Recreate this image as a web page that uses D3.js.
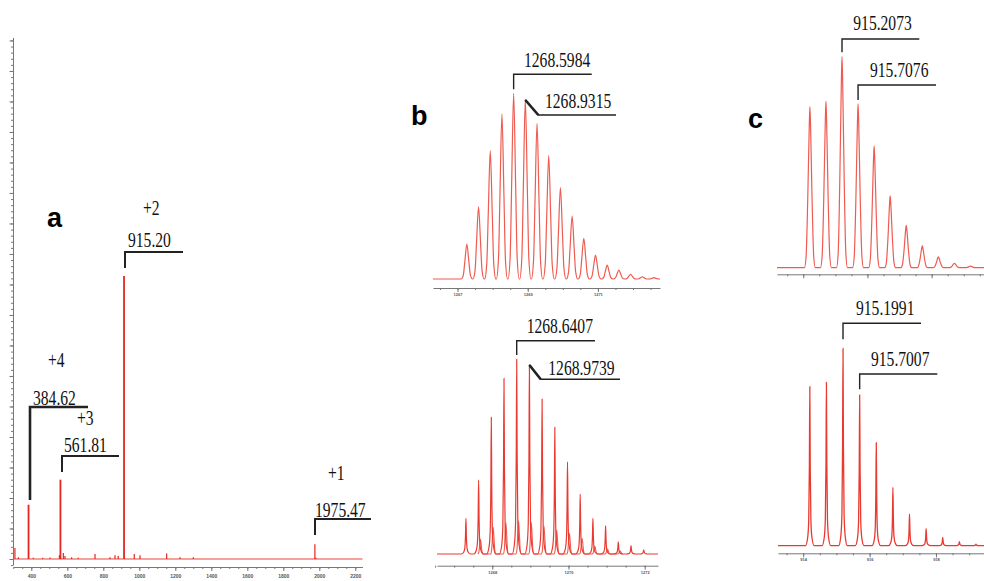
<!DOCTYPE html>
<html>
<head>
<meta charset="utf-8">
<script src="https://cdn.jsdelivr.net/npm/d3@7"></script>
<style>
body { margin: 0; background: #fff; }
svg { display: block; }
.mz { font-family: "Liberation Serif", "Times New Roman", serif; font-size: 20px; fill: #111; }
.panel { font-family: "Liberation Sans", Arial, sans-serif; font-weight: bold; font-size: 27px; fill: #000; }
.axis path, .axis line { stroke: #777; stroke-width: 1; }
.axis text { font-family: "Liberation Sans", Arial, sans-serif; font-size: 4px; font-weight: bold; fill: #555; }
.bracket { fill: none; stroke: #222; }
</style>
</head>
<body>
<script>
// a: full scan
var surveyMz  = [309, 328, 384.62, 411, 463, 504, 556, 561.81, 578, 587, 624, 661, 754, 837, 865, 883, 915.20, 972, 1004, 1152, 1226, 1300, 1975.47, 1981];
var surveyInt = [1.8, 0.3, 8.9, 0.2, 0.2, 0.25, 0.6, 13.0, 1.0, 0.5, 0.3, 0.2, 0.8, 0.3, 0.6, 0.5, 46.4, 0.8, 0.6, 0.9, 0.3, 0.3, 2.4, 0.2];
var surveyTickLabels = [400, 600, 800, 1000, 1200, 1400, 1600, 1800, 2000, 2200];

// b: 3+ isotope envelope, top and bottom spectra
var bTopMz  = [1267.265, 1267.598, 1267.932, 1268.265, 1268.5984, 1268.9315, 1269.265, 1269.598, 1269.932, 1270.265, 1270.598, 1270.932, 1271.265, 1271.598, 1271.932, 1272.265, 1272.598];
var bTopInt = [18.8, 38.9, 69.1, 88.9, 100, 96.8, 83.8, 66.4, 49.2, 33.9, 21.9, 12.9, 7.5, 4.8, 2.5, 1.2, 0.7];
var bTopTickLabels = [1267, 1269, 1271];

var bBotMz  = [1267.308, 1267.641, 1267.974, 1268.307, 1268.6407, 1268.9739, 1269.307, 1269.641, 1269.974, 1270.307, 1270.641, 1270.974, 1271.307, 1271.641, 1271.974];
var bBotInt = [18.3, 38.0, 70.2, 90.2, 100, 97.1, 79.6, 65.1, 47.3, 30.7, 18.3, 14.4, 6.3, 4.3, 2.1];
var bBotShoulderMz  = [1267.69, 1268.024, 1268.357, 1268.69, 1269.024, 1269.357, 1269.69, 1270.024, 1270.357, 1270.69, 1271.024, 1271.357];
var bBotShoulderInt = [7.5, 13.7, 16.1, 17.1, 16.1, 14.4, 12.3, 10.6, 8.1, 4.1, 2.6, 1.5];
var bBotTickLabels = [1268, 1270, 1272];

// c: 2+ isotope envelope
var cTopMz  = [914.2073, 914.7073, 915.2073, 915.7076, 916.208, 916.708, 917.209, 917.709, 918.21, 918.71, 919.21];
var cTopInt = [76.3, 79.0, 100, 77.6, 57.7, 34.0, 20.1, 10.3, 5.2, 2.1, 0.8];
var cBotMz  = [914.1991, 914.6991, 915.1991, 915.7007, 916.201, 916.702, 917.202, 917.703, 918.203, 918.704, 919.204];
var cBotInt = [80.6, 82.8, 100, 76.4, 52.2, 29.6, 16.0, 8.6, 4.2, 2.0, 0.8];
var cTickLabels = [914, 916, 918];

var svg = d3.select('body')
  .append('svg')
    .attr('width', 984)
    .attr('height', 581);

// peak shapes (offset in widths, fraction of height)
var roundShape = [[-1, 0], [-0.62, 0.12], [-0.36, 0.5], [0, 1], [0.36, 0.5], [0.62, 0.12], [1, 0]];
var pointShape = [[-1, 0], [-0.7, 0.07], [-0.4, 0.42], [-0.12, 0.88], [0, 1], [0.12, 0.88], [0.4, 0.42], [0.7, 0.07], [1, 0]];
var spikeShape = [[-1, 0], [-0.5, 0.05], [-0.25, 0.16], [-0.1, 0.5], [0, 1], [0.1, 0.5], [0.25, 0.16], [0.5, 0.05], [1, 0]];

function profile(mz, inten, shape, w, x, y, withBase) {
  var pts = [];
  if (withBase) pts.push([x.domain()[0], 0]);
  mz.forEach(function(m, i) {
    shape.forEach(function(s) { pts.push([m + s[0] * w, s[1] * inten[i]]); });
  });
  if (withBase) pts.push([x.domain()[1], 0]);
  return d3.line()
    .x(function(d) { return x(d[0]); })
    .y(function(d) { return y(d[1]); })
    .curve(d3.curveMonotoneX)(pts);
}

function label(x, y, txt) {
  svg.append('text')
    .attr('class', 'mz')
    .attr('transform', 'translate(' + x + ',' + y + ') scale(0.78,1)')
    .text(txt);
}

function bracket(d, w) {
  svg.append('path').attr('class', 'bracket').attr('stroke-width', w).attr('d', d);
}

function xAxis(x, y0, minor, major, showLabels) {
  svg.append('g')
    .attr('class', 'axis')
    .attr('transform', 'translate(0,' + y0 + ')')
    .call(d3.axisBottom(x).tickValues(minor).tickSize(2).tickFormat('').tickSizeOuter(0));
  var g = svg.append('g')
    .attr('class', 'axis')
    .attr('transform', 'translate(0,' + y0 + ')')
    .call(d3.axisBottom(x).tickValues(major).tickSize(4).tickPadding(1).tickSizeOuter(0)
      .tickFormat(showLabels ? d3.format('d') : ''));
  g.select('.domain').remove();
  return g;
}

// ---------- a ----------
var xa = d3.scaleLinear().domain([300, 2240]).range([13.3, 362.5]);
var ya = d3.scaleLinear().domain([-1, 85.5]).range([565.1, 37.4]);

svg.append('g')
  .attr('class', 'axis')
  .attr('transform', 'translate(13,0)')
  .call(d3.axisLeft(ya).tickValues(d3.range(-1, 86, 1)).tickSize(2).tickFormat('').tickSizeOuter(0));
svg.append('g')
  .attr('class', 'axis')
  .attr('transform', 'translate(13,0)')
  .call(d3.axisLeft(ya).tickValues(d3.range(0, 86, 5)).tickSize(3.5).tickFormat('').tickSizeOuter(0))
  .select('.domain').remove();

var ga = xAxis(xa, 567, d3.range(300, 2241, 50), surveyTickLabels, true);
ga.selectAll('text').style('font-size', '5px').attr('dy', '1.2em');

svg.append('line')
  .attr('x1', xa(300)).attr('x2', xa(2240))
  .attr('y1', ya(0)).attr('y2', ya(0))
  .attr('stroke', '#e8453c').attr('stroke-width', 1);

svg.selectAll('.sp')
  .data(d3.range(surveyMz.length))
  .enter().append('line')
    .attr('class', 'sp')
    .attr('x1', function(i) { return xa(surveyMz[i]); })
    .attr('x2', function(i) { return xa(surveyMz[i]); })
    .attr('y1', ya(0))
    .attr('y2', function(i) { return ya(surveyInt[i]); })
    .attr('stroke', '#e5261f')
    .attr('stroke-width', function(i) { return surveyInt[i] > 5 ? 1.8 : 1.2; });

bracket('M30,500V407H88', 2.6);
label(33, 405, '384.62');
label(48, 367, '+4');
bracket('M62,472V456H119', 2);
label(64, 452, '561.81');
label(77, 425, '+3');
bracket('M125,268V252H183', 2);
label(128, 247, '915.20');
label(143, 215, '+2');
bracket('M315,535V519H371', 2);
label(315, 516.7, '1975.47');
label(328, 480, '+1');

svg.append('text').attr('class', 'panel').attr('x', 47).attr('y', 227).text('a');
svg.append('text').attr('class', 'panel').attr('x', 411).attr('y', 125).text('b');
svg.append('text').attr('class', 'panel').attr('x', 748).attr('y', 128).text('c');

// ---------- b top ----------
var xbt = d3.scaleLinear().domain([1266.3, 1272.77]).range([433, 660]);
var ybt = d3.scaleLinear().domain([0, 100]).range([279, 93.3]);
xAxis(xbt, 288, d3.range(1266.5, 1272.8, 0.5), bTopTickLabels, true);
svg.append('path')
  .attr('d', profile(bTopMz, bTopInt, roundShape, 0.16, xbt, ybt, true))
  .attr('fill', 'none').attr('stroke', '#ef5b50').attr('stroke-width', 1.2);

bracket('M' + xbt(1268.5984) + ',89.3V74.3H591.7', 1.4);
label(524, 66.7, '1268.5984');
bracket('M' + xbt(1268.9315) + ',100L538.3,115H616', 1.4);
bracket('M' + xbt(1268.9315) + ',100L538.3,115', 2.6);
label(545, 108.3, '1268.9315');

// ---------- b bottom ----------
var xbb = d3.scaleLinear().domain([1266.549, 1272.349]).range([437, 658]);
var ybb = d3.scaleLinear().domain([0, 100]).range([554, 359.3]);
xAxis(xbb, 565.7, d3.range(1266.5, 1272.35, 0.5), bBotTickLabels, true);
svg.append('path')
  .attr('d', profile(bBotShoulderMz, bBotShoulderInt, roundShape, 0.07, xbb, ybb, false))
  .attr('fill', 'none').attr('stroke', '#ef5b50').attr('stroke-width', 1.1);
svg.append('path')
  .attr('d', profile(bBotMz, bBotInt, spikeShape, 0.12, xbb, ybb, true))
  .attr('fill', 'none').attr('stroke', '#ea3a30').attr('stroke-width', 1.2);

bracket('M' + xbb(1268.6407) + ',355V340.7H595', 1.4);
label(526.7, 333.3, '1268.6407');
bracket('M' + xbb(1268.9739) + ',365L540.7,379.3H620', 1.4);
bracket('M' + xbb(1268.9739) + ',365L540.7,379.3', 2.6);
label(548.3, 375, '1268.9739');

// ---------- c top ----------
var xct = d3.scaleLinear().domain([913.182, 919.631]).range([777, 984]);
var yct = d3.scaleLinear().domain([0, 100]).range([267.7, 56.7]);
xAxis(xct, 274.3, d3.range(913.5, 919.7, 0.5), cTickLabels, false);
svg.append('path')
  .attr('d', profile(cTopMz, cTopInt, pointShape, 0.17, xct, yct, true))
  .attr('fill', 'none').attr('stroke', '#ef5b50').attr('stroke-width', 1.2);

bracket('M' + xct(915.2073) + ',52.3V39H919.3', 1.4);
label(853.3, 30, '915.2073');
bracket('M' + xct(915.7076) + ',100V85H936', 1.4);
label(870, 76.7, '915.7076');

// ---------- c bottom ----------
var xcb = d3.scaleLinear().domain([913.241, 919.446]).range([778, 984]);
var ycb = d3.scaleLinear().domain([0, 100]).range([545.7, 348.4]);
xAxis(xcb, 553.3, d3.range(913.5, 919.45, 0.5), cTickLabels, true);
svg.append('path')
  .attr('d', profile(cBotMz, cBotInt, spikeShape, 0.13, xcb, ycb, true))
  .attr('fill', 'none').attr('stroke', '#ea3a30').attr('stroke-width', 1.3);

bracket('M' + xcb(915.1991) + ',339.3V323.3H921', 1.4);
label(856, 315, '915.1991');
bracket('M' + xcb(915.7007) + ',389.3V374H937.3', 1.4);
label(871, 366, '915.7007');
</script>
</body>
</html>
